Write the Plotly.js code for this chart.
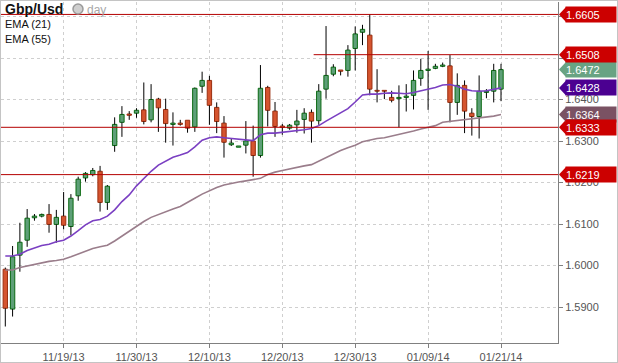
<!DOCTYPE html>
<html><head><meta charset="utf-8">
<script src="https://cdn.plot.ly/plotly-3.0.1.min.js"></script>
<style>
html,body{margin:0;padding:0;background:#fff;}
#wrap{position:relative;width:618px;height:363px;overflow:hidden;}
#chart{position:absolute;left:0;top:0;width:618px;height:363px;}
#frame{position:absolute;left:0;top:0;width:618px;height:363px;box-sizing:border-box;border:1px solid #c4c4c4;pointer-events:none;}
</style></head><body>
<div id="wrap"><div id="chart"></div><div id="frame"></div></div>
<script>
// ---- data ----
const opens = [1.5991,1.5895,1.6025,1.6061,1.6115,1.6119,1.6123,1.6099,1.6119,1.6094,
  1.6168,1.6211,1.6219,1.6227,1.6152,1.6289,1.6345,1.6365,1.6367,1.6375,
  1.6351,1.6401,1.6376,1.6340,1.6343,1.6350,1.6334,1.6432,1.6446,1.6381,
  1.6343,1.6291,1.6285,1.6290,1.6300,1.6265,1.6429,1.6372,1.6336,1.6331,
  1.6339,1.6352,1.6369,1.6349,1.6425,1.6461,1.6471,1.6470,1.6523,1.6562,
  1.6555,1.6422,1.6422,1.6405,1.6402,1.6405,1.6410,1.6451,1.6470,1.6475,
  1.6480,1.6481,1.6393,1.6434,1.6367,1.6359,1.6417,1.6420,1.6425];
const highs = [1.5995,1.6047,1.6103,1.6136,1.6124,1.6125,1.6148,1.6134,1.6177,1.6172,
  1.6214,1.6225,1.6235,1.6240,1.6194,1.6357,1.6384,1.6372,1.6379,1.6441,
  1.6437,1.6404,1.6402,1.6369,1.6351,1.6350,1.6429,1.6467,1.6457,1.6393,
  1.6360,1.6306,1.6288,1.6348,1.6337,1.6483,1.6433,1.6394,1.6341,1.6341,
  1.6375,1.6379,1.6376,1.6437,1.6577,1.6485,1.6471,1.6531,1.6576,1.6580,
  1.6605,1.6473,1.6422,1.6421,1.6434,1.6437,1.6470,1.6498,1.6517,1.6486,
  1.6489,1.6507,1.6463,1.6446,1.6379,1.6458,1.6425,1.6486,1.6486];
const lows = [1.5853,1.5877,1.5985,1.6045,1.6108,1.6116,1.6079,1.6055,1.6087,1.6073,
  1.6156,1.6202,1.6215,1.6130,1.6134,1.6274,1.6310,1.6351,1.6356,1.6340,
  1.6345,1.6322,1.6296,1.6289,1.6337,1.6320,1.6322,1.6416,1.6339,1.6319,
  1.6260,1.6288,1.6285,1.6270,1.6214,1.6260,1.6335,1.6310,1.6315,1.6327,
  1.6320,1.6318,1.6296,1.6339,1.6402,1.6456,1.6458,1.6455,1.6470,1.6531,
  1.6410,1.6393,1.6401,1.6393,1.6333,1.6371,1.6376,1.6433,1.6375,1.6473,
  1.6478,1.6345,1.6363,1.6319,1.6313,1.6306,1.6403,1.6393,1.6396];
const closes = [1.5897,1.6021,1.6056,1.6114,1.6119,1.6123,1.6099,1.6116,1.6097,1.6162,
  1.6208,1.6222,1.6229,1.6152,1.6191,1.6340,1.6364,1.6362,1.6374,1.6347,
  1.6400,1.6380,1.6342,1.6343,1.6340,1.6331,1.6427,1.6446,1.6386,1.6347,
  1.6297,1.6295,1.6288,1.6300,1.6265,1.6427,1.6374,1.6335,1.6333,1.6338,
  1.6348,1.6367,1.6348,1.6420,1.6458,1.6478,1.6468,1.6519,1.6558,1.6569,
  1.6425,1.6420,1.6420,1.6398,1.6405,1.6408,1.6446,1.6470,1.6473,1.6480,
  1.6483,1.6393,1.6434,1.6372,1.6359,1.6420,1.6420,1.6470,1.6472];
const ema21 = [1.6023,1.6023,1.6027,1.6036,1.6042,1.6048,1.6051,1.6057,1.6061,1.6071,
  1.6084,1.6098,1.6108,1.6111,1.6119,1.6134,1.6154,1.6170,1.6192,1.6210,
  1.6227,1.6242,1.6251,1.6261,1.6266,1.6272,1.6286,1.6302,1.6308,1.6310,
  1.6308,1.6306,1.6304,1.6302,1.6301,1.6315,1.6319,1.6319,1.6321,1.6322,
  1.6324,1.6327,1.6330,1.6337,1.6348,1.6358,1.6369,1.6378,1.6394,1.6411,
  1.6413,1.6413,1.6415,1.6416,1.6415,1.6414,1.6417,1.6421,1.6425,1.6429,
  1.6435,1.6436,1.6432,1.6425,1.6421,1.6420,1.6421,1.6424,1.6428];
const ema55 = [1.5989,1.5989,1.5995,1.5999,1.6002,1.6007,1.6010,1.6012,1.6015,1.6021,
  1.6028,1.6034,1.6041,1.6045,1.6049,1.6059,1.6071,1.6081,1.6093,1.6106,
  1.6116,1.6123,1.6129,1.6136,1.6142,1.6151,1.6162,1.6172,1.6181,1.6188,
  1.6194,1.6198,1.6201,1.6204,1.6207,1.6210,1.6219,1.6225,1.6229,1.6233,
  1.6236,1.6240,1.6243,1.6252,1.6261,1.6268,1.6277,1.6284,1.6290,1.6298,
  1.6302,1.6306,1.6308,1.6312,1.6316,1.6319,1.6324,1.6329,1.6333,1.6337,
  1.6345,1.6347,1.6349,1.6352,1.6354,1.6355,1.6357,1.6360,1.6364];
const tickIdx = [8,18,28,38,48,58,68];
const tickText = ['11/19/13','11/30/13','12/10/13','12/20/13','12/30/13','01/09/14','01/21/14'];
const priceTicks = [1.59,1.60,1.61,1.62,1.63,1.64,1.65,1.66];
const priceTickText = ['1.5900','1.6000','1.6100','1.6200','1.6300','1.6400','',''];
const levels = [1.6605,1.6508,1.6333,1.6219];
const levelFrom = [null,42.3,null,null];
const symbol = 'Gbp/Usd';
const period = 'day';
const emaNames = ['EMA (21)','EMA (55)'];

// ---- build ----
const FONT = 'Liberation Sans, Arial, sans-serif';
const n = closes.length;
const idx = opens.map((_, i) => i);
const xRange = [-0.59, 75.82];
const yRange = [1.581325, 1.663494];

const up = idx.map(i => closes[i] >= opens[i]);
const base = idx.map(i => Math.min(opens[i], closes[i]));
const hgt = idx.map(i => Math.abs(closes[i] - opens[i]));
const bodyFill = up.map(u => u ? '#5e9f78' : '#d5542f');
const bodyLine = up.map(u => u ? '#0b6a12' : '#9a2f10');

const wx = [], wy = [];
idx.forEach(i => {
  const top = Math.max(opens[i], closes[i]), bot = Math.min(opens[i], closes[i]);
  wx.push(i, i, null, i, i, null);
  wy.push(highs[i], top, null, bot, lows[i], null);
});

const traces = [
  {type:'bar', x: idx, y: hgt, base: base, width: 0.6,
   marker:{color: bodyFill, line:{color: bodyLine, width: 1}}, hoverinfo:'skip'},
  {type:'scatter', mode:'lines', x: wx, y: wy, line:{color:'#000', width:1}, hoverinfo:'skip', connectgaps:false},
  {type:'scatter', mode:'lines', x: idx, y: ema55, line:{color:'#9a7d8b', width:1.6}, hoverinfo:'skip'},
  {type:'scatter', mode:'lines', x: idx, y: ema21, line:{color:'#7a3fc2', width:1.6}, hoverinfo:'skip'}
];

const PL = 1, PR = 558, PT = 2, PB = 343;
const px = x => (x - PL) / (PR - PL);
const py = y => (PB - y) / (PB - PT);

const shapes = [];
levels.forEach((v, i) => {
  const partial = levelFrom[i] !== null;
  shapes.push({type:'line', xref: partial ? 'x' : 'paper', x0: partial ? levelFrom[i] : 0,
    x1: partial ? xRange[1] : 1, yref:'y', y0: v, y1: v, line:{color:'#b40000', width:1}, layer:'above'});
});

const tags = [
  [ema55[n-1], '#7a5263'],
  [ema21[n-1], '#4b0091'],
  [closes[n-1], '#68a383'],
  [levels[3], '#cc0000'],
  [levels[2], '#cc0000'],
  [levels[1], '#cc0000'],
  [levels[0], '#cc0000']
];
const annotations = [];
tags.forEach(([v, c]) => {
  shapes.push({type:'path', xref:'paper', yref:'y', xsizemode:'pixel', ysizemode:'pixel',
    xanchor: 1, yanchor: v, path:'M 1 0 L 8 7.5 L 8 -7.5 Z', fillcolor: c, line:{width:0}, layer:'above'});
  annotations.push({xref:'paper', x: 1, xanchor:'left', xshift: 7, yref:'y', y: v, yanchor:'middle',
    text: v.toFixed(4), showarrow:false, bgcolor: c, width: 50, height: 15, align:'left', borderpad: 0,
    font:{family: FONT, size: 11, color:'#ffffff'}});
});

// clock icon
shapes.push({type:'circle', xref:'paper', yref:'paper', xsizemode:'pixel', ysizemode:'pixel',
  xanchor: px(78), yanchor: py(9), x0:-5, x1:5, y0:-5, y1:5, fillcolor:'#cfcfcf', line:{color:'#9a9a9a', width:1.5}, layer:'above'});
shapes.push({type:'path', xref:'paper', yref:'paper', xsizemode:'pixel', ysizemode:'pixel',
  xanchor: px(78), yanchor: py(9), path:'M 0 0 L 0 4 A 4 4 0 0 1 4 0 Z', fillcolor:'#ffffff', line:{width:0}, layer:'above'});

annotations.push({xref:'paper', yref:'paper', x: px(3), y: py(9), xanchor:'left', yanchor:'middle',
  text:'<b>' + symbol + '</b>', showarrow:false, font:{family: FONT, size: 14, color:'#111'}});
annotations.push({xref:'paper', yref:'paper', x: px(85), y: py(10), xanchor:'left', yanchor:'middle',
  text: period, showarrow:false, font:{family: FONT, size: 12, color:'#a8a8a8'}});
emaNames.forEach((t, k) => {
  annotations.push({xref:'paper', yref:'paper', x: px(3), y: py(24 + 14.5 * k), xanchor:'left', yanchor:'middle',
    text: t, showarrow:false, font:{family: FONT, size: 11, color:'#111'}});
});

const layout = {
  width: 618, height: 363,
  margin: {l: PL, r: 618 - PR, t: PT, b: 363 - PB, pad: 0},
  paper_bgcolor:'#ffffff', plot_bgcolor:'#ffffff',
  showlegend:false, barmode:'overlay',
  xaxis:{type:'linear', range: xRange, tickmode:'array', tickvals: tickIdx, ticktext: tickText,
    ticks:'outside', ticklen: 4, tickcolor:'#808080', showline:true, linecolor:'#808080', linewidth:1,
    showgrid:true, gridcolor:'#cfcfcf', griddash:'dot', zeroline:false,
    tickfont:{family: FONT, size: 11, color:'#555'}, fixedrange:true},
  yaxis:{side:'right', range: yRange, tickmode:'array', tickvals: priceTicks, ticktext: priceTickText,
    ticks:'outside', ticklen: 4, tickcolor:'#808080', showline:true, linecolor:'#808080', linewidth:1,
    showgrid:true, gridcolor:'#cfcfcf', griddash:'dot', zeroline:false,
    tickfont:{family: FONT, size: 11, color:'#555'}, fixedrange:true},
  shapes: shapes,
  annotations: annotations
};

Plotly.newPlot('chart', traces, layout, {staticPlot:true, displayModeBar:false});
</script>
</body></html>
